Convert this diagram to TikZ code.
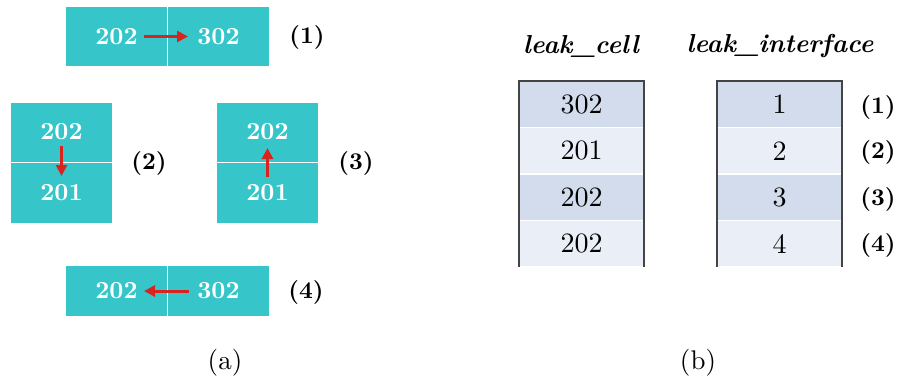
\documentclass[tikz,border=0pt]{standalone}
\usepackage{fontspec}
\setmainfont{lmroman10}[Extension=.otf, UprightFont=*-regular, BoldFont=*-bold,
  ItalicFont=*-italic, BoldItalicFont=*-bolditalic]
\usetikzlibrary{arrows.meta}
\definecolor{cellteal}{HTML}{36C6CA}
\definecolor{flowred}{HTML}{D8231E}
\definecolor{rowdark}{HTML}{D2DCEC}
\definecolor{rowlight}{HTML}{E9EEF7}
\definecolor{tableline}{HTML}{444444}
\tikzset{
  cellbox/.style={fill=cellteal, text=white, inner sep=0pt, minimum width=101pt,
    font=\fontsize{24.5}{28}\selectfont\bfseries},
  flow/.style={draw=flowred, line width=3pt, -{Triangle[length=11pt,width=11pt]}},
  caselabel/.style={font=\fontsize{24}{28}\selectfont\bfseries},
  rowd/.style={fill=rowdark, inner sep=0pt, minimum width=125pt, minimum height=45pt,
    font=\fontsize{28}{30}\selectfont},
  rowl/.style={rowd, fill=rowlight},
  heading/.style={font=\fontsize{26}{30}\selectfont\bfseries\itshape},
  tableframe/.style={draw=tableline, line width=1.6pt},
  subcap/.style={font=\fontsize{27}{30}\selectfont}
}
\begin{document}
\begin{tikzpicture}[x=1pt, y=-1pt]
\useasboundingbox (0,0) rectangle (897,383);

% case (1): horizontal pair, flow to the right
\node[cellbox, minimum height=59pt] (a1) at (116.5,36.5) {202};
\node[cellbox, minimum height=59pt] (b1) at (218.5,36.5) {302};
\draw[flow, shorten <=27.5pt, shorten >=30.5pt] (a1.center) -- (b1.center);
\node[caselabel] (l1) at (307,37) {(1)};

% case (2): vertical pair, flow downward
\node[cellbox, minimum height=59pt] (a2) at (61.5,132) {202};
\node[cellbox, minimum height=60pt] (b2) at (61.5,193) {201};
\draw[flow, shorten <=14pt, shorten >=17pt] (a2.center) -- (b2.center);
\node[caselabel] (l2) at (149,163) {(2)};

% case (3): vertical pair, flow upward
\node[cellbox, minimum height=59pt] (a3) at (267.5,132) {202};
\node[cellbox, minimum height=60pt] (b3) at (267.5,193) {201};
\draw[flow, shorten <=16pt, shorten >=16pt] (b3.center) -- (a3.center);
\node[caselabel] (l3) at (356,163) {(3)};

% case (4): horizontal pair, flow to the left
\node[cellbox, minimum height=50pt] (a4) at (116.5,291) {202};
\node[cellbox, minimum height=50pt] (b4) at (218.5,291) {302};
\draw[flow, shorten <=29.5pt, shorten >=27.5pt] (b4.center) -- (a4.center);
\node[caselabel] (l4) at (306,292) {(4)};

\node[subcap] (capa) at (225,363) {(a)};

% table of leaking cells
\node[heading] (h1) at (581,46) {leak\_cell};
\node[rowd] (c1) at (581.5,104.25) {302};
\node[rowl] (c2) at (581.5,150.75) {201};
\node[rowd] (c3) at (581.5,197.25) {202};
\node[rowl] (c4) at (581.5,243.75) {202};
\draw[tableframe] ([yshift=-0.75pt]c4.south west) -- ([yshift=0.8pt]c1.north west)
  -- ([yshift=0.8pt]c1.north east) -- ([yshift=-0.75pt]c4.south east);

% table of leaking interfaces
\node[heading] (h2) at (780,46) {leak\_interface};
\node[rowd] (i1) at (779.5,104.25) {1};
\node[rowl] (i2) at (779.5,150.75) {2};
\node[rowd] (i3) at (779.5,197.25) {3};
\node[rowl] (i4) at (779.5,243.75) {4};
\draw[tableframe] ([yshift=-0.75pt]i4.south west) -- ([yshift=0.8pt]i1.north west)
  -- ([yshift=0.8pt]i1.north east) -- ([yshift=-0.75pt]i4.south east);

\node[caselabel] (r1) at (878,107) {(1)};
\node[caselabel] (r2) at (878,152) {(2)};
\node[caselabel] (r3) at (878,199) {(3)};
\node[caselabel] (r4) at (878,245) {(4)};

\node[subcap] (capb) at (698,363) {(b)};
\end{tikzpicture}
\end{document}
